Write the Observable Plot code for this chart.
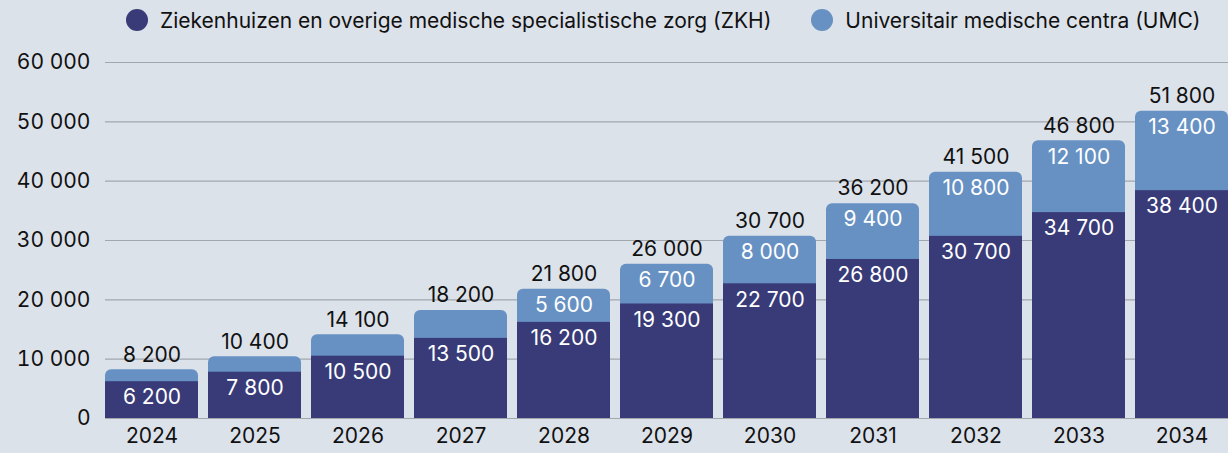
<!DOCTYPE html>
<html>
<head>
<meta charset="utf-8">
<script src="https://cdn.jsdelivr.net/npm/d3@7"></script>
<script src="https://cdn.jsdelivr.net/npm/@observablehq/plot@0.6"></script>
<style>
  html, body { margin: 0; padding: 0; background: #dce2ea; }
  body { width: 1228px; height: 453px; overflow: hidden; font-family: Inter, "Noto Sans", sans-serif; color: #111; }
  .legend { height: 40px; display: flex; align-items: center; padding-left: 126px; font-size: 21px; white-space: nowrap; }
  .legend .item { display: flex; align-items: center; margin-right: 40px; flex-shrink: 0; }
  .legend .sw { width: 22px; height: 22px; border-radius: 50%; margin-right: 12px; flex-shrink: 0; }
  svg { display: block; }
</style>
</head>
<body>
<div class="legend" id="legend"></div>
<div id="chart"></div>
<script>
const years = ["2024","2025","2026","2027","2028","2029","2030","2031","2032","2033","2034"];
const zkh = [6200, 7800, 10500, 13500, 16200, 19300, 22700, 26800, 30700, 34700, 38400];
const umc = [2000, 2600, 3600, 4700, 5600, 6700, 8000, 9400, 10800, 12100, 13400];
const seriesNames = ["Ziekenhuizen en overige medische specialistische zorg (ZKH)", "Universitair medische centra (UMC)"];
const seriesColors = ["#393b78", "#6791c3"];
const yTicks = [0, 10000, 20000, 30000, 40000, 50000, 60000];

const fmt = d3.formatLocale({thousands: " ", grouping: [3], decimal: ","}).format(",d");

const data = years.map((y, i) => ({year: y, zkh: zkh[i], umc: umc[i], total: zkh[i] + umc[i]}));

const legend = document.getElementById("legend");
seriesNames.forEach((n, i) => {
  const it = document.createElement("div");
  it.className = "item";
  it.innerHTML = `<span class="sw" style="background:${seriesColors[i]}"></span><span>${n}</span>`;
  legend.appendChild(it);
});

const chart = Plot.plot({
  width: 1228,
  height: 413,
  marginLeft: 105,
  marginRight: 0,
  marginTop: 22,
  marginBottom: 35,
  style: {background: "#dce2ea", fontFamily: "Inter, 'Noto Sans', sans-serif", fontSize: "21px", color: "#111"},
  x: {domain: years, paddingInner: 0.1, paddingOuter: 0, label: null},
  y: {domain: [0, 60000], label: null},
  marks: [
    Plot.ruleY(yTicks, {stroke: "#a2a7ad", strokeWidth: 1.2}),
    Plot.barY(data, {x: "year", y1: 0, y2: "total", fill: seriesColors[1], rx: 6}),
    Plot.barY(data, {x: "year", y1: 0, y2: "zkh", fill: seriesColors[0]}),
    Plot.text(data, {x: "year", y: "total", text: d => fmt(d.total), dy: -15, fill: "#111", fontSize: 21}),
    Plot.text(data.filter(d => d.umc >= 5000), {x: "year", y: "total", text: d => fmt(d.umc), dy: 16, fill: "white", fontSize: 21}),
    Plot.text(data, {x: "year", y: "zkh", text: d => fmt(d.zkh), dy: 16, fill: "white", fontSize: 21}),
    Plot.axisY({ticks: yTicks, tickFormat: fmt, tickSize: 0, tickPadding: 15, fontSize: 21}),
    Plot.axisX({tickSize: 0, tickPadding: 10, fontSize: 21})
  ]
});
document.getElementById("chart").appendChild(chart);
</script>
</body>
</html>
